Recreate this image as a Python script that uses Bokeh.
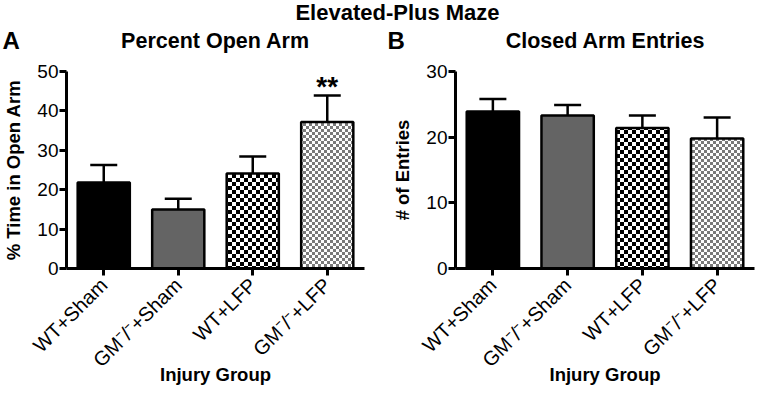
import math
from bokeh.plotting import figure
from bokeh.models import (ColumnDataSource, FactorRange, Range1d, FixedTicker,
                          Whisker, TeeHead, Label, CanvasTexture)
from bokeh.core.properties import value
from bokeh.layouts import column, row
from bokeh.embed import file_html
from bokeh.resources import INLINE

# ---------------- data ----------------
groups = ["WT+Sham", "GM⁻/⁻+Sham", "WT+LFP", "GM⁻/⁻+LFP"]
open_arm_mean = [21.8, 15.0, 24.1, 37.2]
open_arm_sem = [4.5, 2.7, 4.3, 6.7]
open_arm_sig = ["", "", "", "**"]
closed_entries_mean = [23.9, 23.3, 21.4, 19.8]
closed_entries_sem = [1.9, 1.6, 1.9, 3.2]
closed_entries_sig = ["", "", "", ""]
open_arm_ticks = [0, 10, 20, 30, 40, 50]
closed_entries_ticks = [0, 10, 20, 30]

# ---------------- styles ----------------
FONT = "Liberation Sans"
bar_fill = ["black", "#646464", "white", "white"]
bar_hatch = [" ", " ", "checker_black", "checker_gray"]

checker_black = CanvasTexture(code="""
const c = ctx.canvas; c.width = 8; c.height = 8;
ctx.fillStyle = '#ffffff'; ctx.fillRect(0, 0, 8, 8);
ctx.fillStyle = '#000000'; ctx.fillRect(0, 0, 4, 4); ctx.fillRect(4, 4, 4, 4);
""")
checker_gray = CanvasTexture(code="""
const c = ctx.canvas; c.width = 6; c.height = 6;
ctx.fillStyle = '#ffffff'; ctx.fillRect(0, 0, 6, 6);
ctx.fillStyle = '#7a7a7a'; ctx.fillRect(0, 0, 3, 3); ctx.fillRect(3, 3, 3, 3);
""")

ROW_H = 333
HEAD_H = 54


def make_panel(ylabel, means, sems, sig, ticks, width, border_left, border_right):
    ymax = ticks[-1]
    p = figure(width=width, height=ROW_H, x_range=FactorRange(*groups),
               y_range=Range1d(0, ymax), toolbar_location=None,
               output_backend="svg", min_border_left=border_left,
               min_border_right=border_right, min_border_top=17,
               min_border_bottom=119)
    p.outline_line_color = None
    p.grid.visible = False
    p.background_fill_color = "white"
    p.border_fill_color = "white"

    src = ColumnDataSource(dict(
        x=groups, top=means, lower=means,
        upper=[m + s for m, s in zip(means, sems)],
        fill=bar_fill, hatch=bar_hatch, sig=sig))

    p.vbar(x="x", top="top", width=0.7, source=src, fill_color="fill",
           line_color="black", line_width=2.5, hatch_pattern="hatch",
           hatch_extra={"checker_black": checker_black,
                        "checker_gray": checker_gray})

    w = Whisker(source=src, base="x", lower="lower", upper="upper",
                line_color="black", line_width=2.5, lower_head=None,
                upper_head=TeeHead(size=27, line_color="black", line_width=2.5),
                level="annotation")
    p.add_layout(w)

    p.text(x="x", y="upper", text="sig", source=src, text_align="center",
           text_baseline="alphabetic", y_offset=-9, text_font=value(FONT),
           text_font_size="28px", text_font_style="bold", text_color="black")

    p.yaxis.ticker = FixedTicker(ticks=ticks)
    p.xaxis.major_label_orientation = math.pi / 4
    p.xaxis.axis_label = "Injury Group"
    p.yaxis.axis_label = ylabel
    for ax in p.axis:
        ax.axis_line_width = 3
        ax.axis_line_color = "black"
        ax.major_tick_line_width = 3
        ax.major_tick_line_color = "black"
        ax.major_tick_out = 7
        ax.major_tick_in = 0
        ax.minor_tick_line_color = None
        ax.major_label_text_font = FONT
        ax.major_label_text_font_size = "19px"
        ax.major_label_text_color = "black"
        ax.axis_label_text_font = FONT
        ax.axis_label_text_font_size = "18.5px"
        ax.axis_label_text_font_style = "bold"
        ax.axis_label_text_color = "black"
    p.xaxis.major_label_text_font_size = "20px"
    p.yaxis.major_label_standoff = 1
    p.yaxis.axis_label_standoff = 10
    p.xaxis.major_label_standoff = 6
    p.xaxis.axis_label_standoff = -18
    return p


pA = make_panel("% Time in Open Arm", open_arm_mean, open_arm_sem, open_arm_sig,
                open_arm_ticks, 380, 63, 16)
pB = make_panel("# of Entries", closed_entries_mean, closed_entries_sem,
                closed_entries_sig, closed_entries_ticks, 375, 75, 1)

# heading strip: overall title, panel letters and panel titles
p0 = figure(width=755, height=HEAD_H, x_range=Range1d(0, 755),
            y_range=Range1d(0, HEAD_H), toolbar_location=None,
            output_backend="svg", min_border=0, min_border_left=0,
            min_border_right=0, min_border_top=0, min_border_bottom=0)
p0.axis.visible = False
p0.grid.visible = False
p0.outline_line_color = None


def head_label(x, y, text, size, align):
    p0.add_layout(Label(x=x, y=y, text=text, text_font=FONT,
                        text_font_size=size, text_font_style="bold",
                        text_color="black", text_align=align,
                        text_baseline="middle"))


head_label(397, HEAD_H - 11.5, "Elevated-Plus Maze", "22px", "center")
head_label(2, HEAD_H - 40, "A", "24px", "left")
head_label(215, HEAD_H - 40, "Percent Open Arm", "21.5px", "center")
head_label(387, HEAD_H - 40, "B", "24px", "left")
head_label(605, HEAD_H - 40, "Closed Arm Entries", "21.5px", "center")

layout = column(p0, row(pA, pB, spacing=0), spacing=0)
open("out.html", "w").write(file_html(layout, INLINE))
